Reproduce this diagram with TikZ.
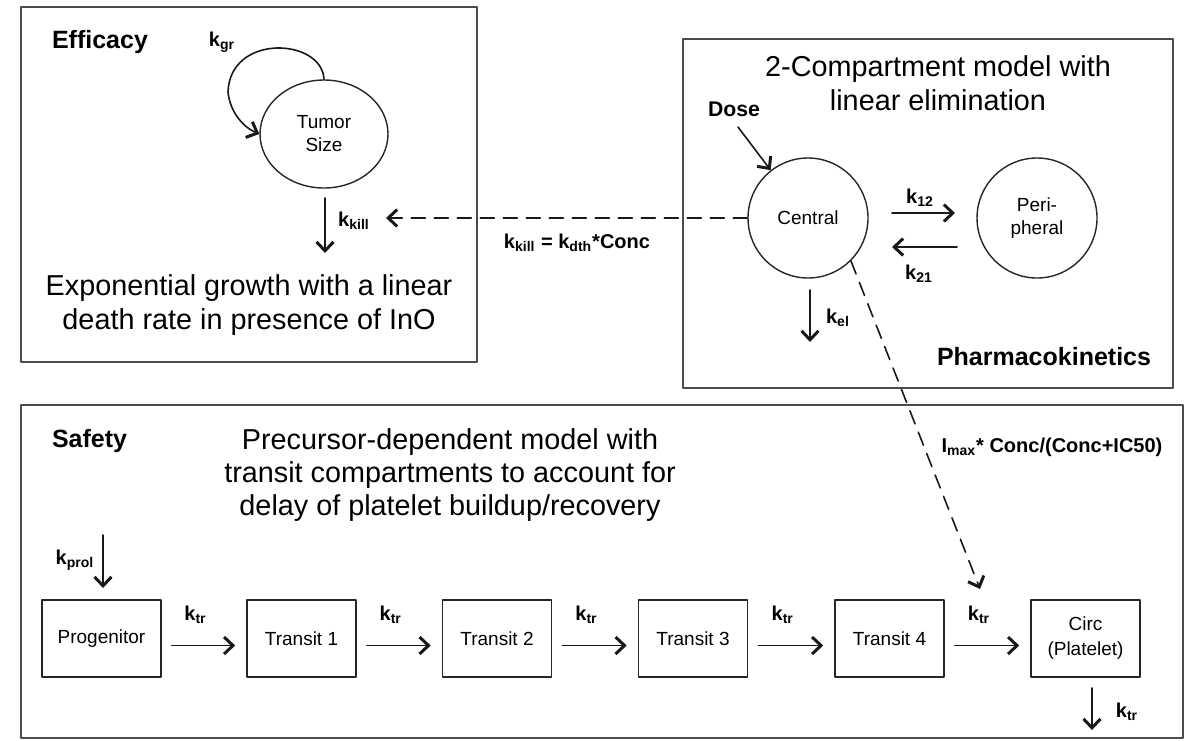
\documentclass[tikz,border=0pt]{standalone}
\usepackage{fontspec}
\setmainfont{Liberation Sans}
\usetikzlibrary{arrows.meta,shapes.geometric}

\newcommand{\rate}[2]{\textbf{#1\textsubscript{#2}}}

\begin{document}
\begin{tikzpicture}[x=0.5pt,y=-0.5pt,line cap=round,line join=round,
  panel/.style={draw=black!70,line width=1pt},
  comp/.style={circle,draw=black!85,line width=0.7pt,minimum size=60pt,inner sep=0pt,
    font=\fontsize{9.5}{11.5}\selectfont,align=center},
  cbox/.style={rectangle,draw=black!85,line width=0.8pt,minimum width=54.5pt,
    minimum height=38.5pt,inner sep=0pt,font=\fontsize{9.5}{12.5}\selectfont,align=center},
  flow/.style={draw=black!90,line width=0.8pt,
    -{Straight Barb[length=4.5pt,width=8.5pt,line width=1.5pt]}},
  effect/.style={flow,dash pattern=on 7pt off 4.5pt},
  ratelbl/.style={font=\fontsize{10}{12}\selectfont},
  heading/.style={font=\fontsize{12.5}{15}\selectfont\bfseries},
  title/.style={font=\fontsize{14.4}{17}\selectfont,align=center}]
  \useasboundingbox (0,0) rectangle (1186,740);

  % panels
  \draw[panel] (21,7) rectangle (477,362);
  \draw[panel] (683,39) rectangle (1173,388);
  \draw[panel] (21,405) rectangle (1183,738);

  % efficacy
  \node[heading,anchor=west] (eff) at (45,42) {Efficacy};
  \node[ellipse,draw=black!85,line width=0.7pt,minimum width=64pt,minimum height=54pt,
    inner sep=0pt,font=\fontsize{9.5}{11.5}\selectfont,align=center] (tumor) at (324,134) {Tumor\\Size};
  \draw[flow] (tumor.north) .. controls (322,38) and (230,33) .. (228,92)
    .. controls (230,112) and (243,127) .. (tumor.west);
  \node[ratelbl] (kgr) at (222,42) {\rate{k}{gr}};
  \coordinate (killtop) at (325,198);
  \coordinate (killbot) at (325,253);
  \draw[flow] (killtop) -- (killbot);
  \node[ratelbl] (kkill) at (354,221) {\rate{k}{kill}};
  \node[title] (efftxt) at (249,305) {Exponential growth with a linear\\death rate in presence of InO};

  % pharmacokinetics
  \node[title] (pktxt) at (938,83) {2-Compartment model with\\linear elimination};
  \node[comp] (central) at (808,218) {Central};
  \node[comp] (periph) at (1037,218) {Peri-\\pheral};
  \node[ratelbl,font=\fontsize{10.6}{12}\selectfont\bfseries] (dose) at (734,109) {Dose};
  \coordinate (dosept) at (738,127);
  \draw[flow] (dosept) -- (central.128);
  \coordinate (a12) at (892,213);
  \coordinate (b12) at (955,213);
  \draw[flow] (a12) -- (b12);
  \node[ratelbl] (k12) at (920,198) {\rate{k}{12}};
  \coordinate (a21) at (957,247);
  \coordinate (b21) at (892,247);
  \draw[flow] (a21) -- (b21);
  \node[ratelbl] (k21) at (919,274) {\rate{k}{21}};
  \coordinate (eltop) at (810,290);
  \coordinate (elbot) at (810,342);
  \draw[flow] (eltop) -- (elbot);
  \node[ratelbl] (kel) at (838,318) {\rate{k}{el}};
  \node[heading] (pk) at (1044,357) {Pharmacokinetics};

  % drug effects
  \coordinate (killtip) at (386,218);
  \draw[effect] (central.west) -- (killtip);
  \node[ratelbl] (kdth) at (577,243) {\textbf{k\textsubscript{kill} = k\textsubscript{dth}*Conc}};
  \coordinate (plttip) at (980,589);
  \draw[effect] (central.-45) -- (plttip);
  \node[ratelbl] (imax) at (1052,447) {\textbf{I\textsubscript{max}* Conc/(Conc+IC50)}};

  % safety
  \node[heading,anchor=west] (safe) at (45,441) {Safety};
  \node[title,font=\fontsize{14.4}{16.5}\selectfont] (safetxt) at (450,475)
    {Precursor-dependent model with\\transit compartments to account for\\delay of platelet buildup/recovery};
  \node[cbox,minimum width=59.5pt] (prog) at (101.5,638.5) {Progenitor};
  \node[cbox] (t1) at (301.5,638.5) {Transit 1};
  \node[cbox] (t2) at (497,638.5) {Transit 2};
  \node[cbox] (t3) at (693,638.5) {Transit 3};
  \node[cbox] (t4) at (889.5,638.5) {Transit 4};
  \node[cbox] (circ) at (1085.5,638.5) {Circ\\(Platelet)};
  \coordinate (proltop) at (103,535);
  \coordinate (prolbot) at (103,588);
  \draw[flow] (proltop) -- (prolbot);
  \node[ratelbl] (kprol) at (75,560) {\rate{k}{prol}};
  \foreach \a/\b in {prog/t1,t1/t2,t2/t3,t3/t4,t4/circ}
    \draw[flow] ([shift={(10,7)}]\a.east) -- node[ratelbl,xshift=-4pt,yshift=15.5pt] {\rate{k}{tr}}
      ([shift={(-11,7)}]\b.west);
  \coordinate (outtop) at (1092,688);
  \coordinate (outbot) at (1092,730);
  \draw[flow] (outtop) -- (outbot);
  \node[ratelbl] (kout) at (1127,712) {\rate{k}{tr}};
\end{tikzpicture}
\end{document}
